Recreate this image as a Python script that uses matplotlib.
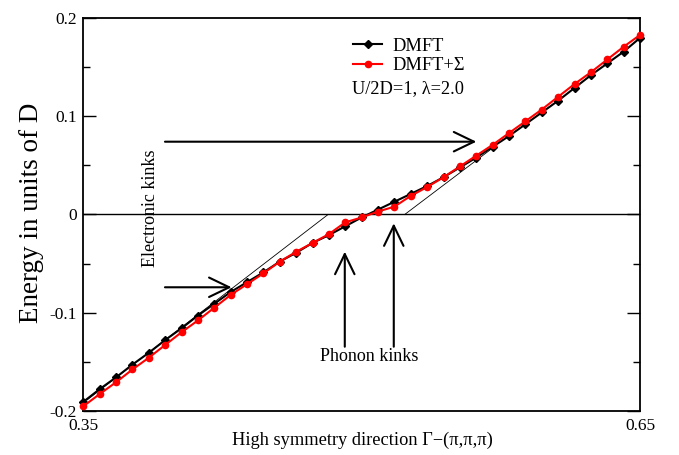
import numpy as np
import matplotlib
matplotlib.use("Agg")
import matplotlib.pyplot as plt
from matplotlib.ticker import MultipleLocator

plt.rcParams['font.family'] = ['Liberation Serif', 'DejaVu Serif']
plt.rcParams['axes.unicode_minus'] = False

# k points along Gamma-(pi,pi,pi), 35 points from 0.35 to 0.65
k = np.linspace(0.35, 0.65, 35)

dmft = [-0.191, -0.178, -0.166, -0.153, -0.141, -0.128, -0.116, -0.103, -0.091,
        -0.079, -0.069, -0.059, -0.048, -0.039, -0.029, -0.021, -0.012, -0.003,
        0.005, 0.013, 0.021, 0.029, 0.038, 0.048, 0.058, 0.069, 0.080, 0.092,
        0.104, 0.116, 0.129, 0.142, 0.154, 0.166, 0.180]

dmft_sigma = [-0.1955, -0.183, -0.171, -0.158, -0.146, -0.133, -0.120, -0.108, -0.095,
              -0.082, -0.071, -0.060, -0.048, -0.038, -0.029, -0.020, -0.008, -0.003,
              0.003, 0.008, 0.019, 0.028, 0.038, 0.049, 0.060, 0.071, 0.083, 0.095,
              0.107, 0.120, 0.133, 0.145, 0.158, 0.171, 0.183]

# thin guide lines (asymptotic slopes)
guide1_x = [0.352, 0.4819]
guide1_y = [-0.1891, 0.0]
guide2_x = [0.5232, 0.5706]
guide2_y = [0.0, 0.0678]

# arrows: (tail, head)
arrows = [((0.394, 0.0742), (0.5618, 0.0742)),
          ((0.394, -0.0742), (0.4299, -0.0742)),
          ((0.4909, -0.1348), (0.4909, -0.0379)),
          ((0.5173, -0.1348), (0.5173, -0.0090))]

fig = plt.figure(figsize=(6.79, 4.55), dpi=100)
ax = fig.add_axes([0.1227, 0.0974, 0.8199, 0.8624])

ax.axhline(0, color='black', lw=1.0, zorder=1)
ax.plot(guide1_x, guide1_y, color='black', lw=0.6, zorder=1)
ax.plot(guide2_x, guide2_y, color='black', lw=0.6, zorder=1)

ax.plot(k, dmft, color='black', lw=1.5, marker='D', ms=4, label='DMFT', zorder=3, clip_on=False)
ax.plot(k, dmft_sigma, color='red', lw=1.5, marker='o', ms=4.5, label='DMFT+Σ', zorder=4, clip_on=False)

for (x0, y0), (x1, y1) in arrows:
    ax.annotate('', xy=(x1, y1), xytext=(x0, y0),
                arrowprops=dict(arrowstyle='->,head_length=1.45,head_width=0.7',
                                color='black', lw=1.5, shrinkA=0, shrinkB=0))

ax.text(0.3862, 0.006, 'Electronic kinks', rotation=90, ha='center', va='center', fontsize=13)
ax.text(0.5041, -0.1448, 'Phonon kinks', ha='center', va='center', fontsize=13)
ax.text(0.4946, 0.1286, 'U/2D=1, λ=2.0', ha='left', va='center', fontsize=13.2)

leg = ax.legend(loc='upper left', bbox_to_anchor=(0.4845, 0.951), frameon=False,
                borderpad=0, borderaxespad=0, handlelength=1.6, handletextpad=0.55,
                labelspacing=0.15, fontsize=13.2)

ax.set_xlim(0.35, 0.65)
ax.set_ylim(-0.2, 0.2)
ax.set_xticks([0.35, 0.65])
ax.set_xticklabels(['0.35', '0.65'])
ax.yaxis.set_minor_locator(MultipleLocator(0.05))
ax.set_yticks([-0.2, -0.1, 0, 0.1, 0.2])
ax.set_yticklabels(['-0.2', '-0.1', '0', '0.1', '0.2'])
ax.tick_params(axis='y', which='major', direction='in', length=9.2, width=1, right=True, labelsize=12.5, pad=4.5)
ax.tick_params(axis='y', which='minor', direction='in', length=5, width=1, right=True)
ax.tick_params(axis='x', which='major', length=0, labelsize=12.5, pad=5)
for s in ax.spines.values():
    s.set_linewidth(1.3)

ax.set_ylabel('Energy in units of D', fontsize=19.5)
ax.yaxis.set_label_coords(-0.0937, 0.504)
ax.yaxis.label.set_va('center')
ax.set_xlabel('High symmetry direction Γ−(π,π,π)', fontsize=13.2)
ax.xaxis.set_label_coords(0.5006, -0.0747)
ax.xaxis.label.set_va('center')

fig.savefig('out.png', dpi=100)
